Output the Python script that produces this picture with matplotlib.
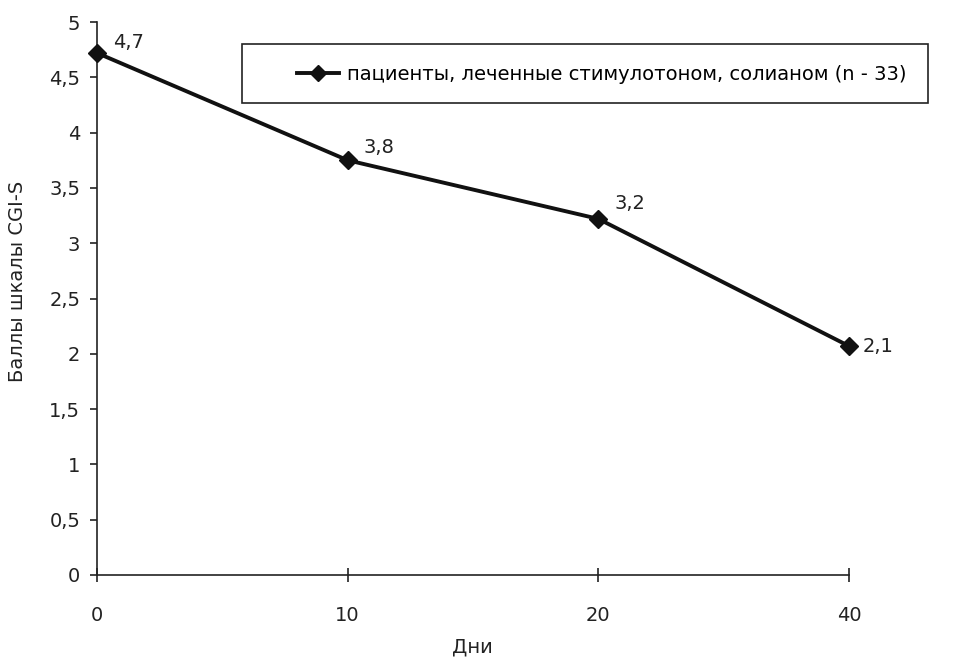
import matplotlib
matplotlib.use('Agg')
import matplotlib.pyplot as plt
from matplotlib.patches import Rectangle
import numpy as np

plt.rcParams.update({
    'font.family': ['DejaVu Sans'],
    'font.size': 14,
})

# CGI-S scores by day
days = ['0', '10', '20', '40']
scores = [4.72, 3.75, 3.22, 2.07]
series_name = 'пациенты, леченные стимулотоном, солианом (n - 33)'
y_ticks = [0, 0.5, 1, 1.5, 2, 2.5, 3, 3.5, 4, 4.5, 5]
y_labels = [f'{v:g}'.replace('.', ',') for v in y_ticks]

W, H = 954, 657
fig = plt.figure(figsize=(W / 100, H / 100), dpi=100)
ax = fig.add_axes([97 / W, 1 - 575 / H, (849 - 97) / W, (575 - 22) / H])

x = np.arange(len(days))
line, = ax.plot(x, scores, color='#111111', linewidth=2.8, marker='D',
                markersize=9.5, markerfacecolor='#111111', markeredgecolor='#111111',
                clip_on=False, zorder=5)

# value labels, offsets in pixels
offsets = [(16, 10), (16, 13), (16, 15), (14, 0)]
for xi, yi, off in zip(x, scores, offsets):
    ax.annotate(f'{yi:.1f}'.replace('.', ','), (xi, yi), textcoords='offset points',
                xytext=(off[0] * 0.72, off[1] * 0.72), ha='left', va='center',
                color='#222222')

ax.set_xlim(0, len(days) - 1)
ax.set_ylim(0, 5)
ax.set_xticks(x)
ax.set_xticklabels(days)
ax.set_yticks(y_ticks)
ax.set_yticklabels(y_labels)

for s in ['top', 'right']:
    ax.spines[s].set_visible(False)
for s in ['left', 'bottom']:
    ax.spines[s].set_linewidth(1.2)
    ax.spines[s].set_color('#222222')
ax.tick_params(axis='y', direction='out', length=5, width=1.2, pad=7, colors='#222222')
ax.tick_params(axis='x', direction='inout', length=10, width=1.2, pad=17, colors='#222222')

fig.text(472 / W, 1 - 647 / H, 'Дни', ha='center', va='center', color='#222222')
fig.text(18 / W, 1 - 281 / H, 'Баллы шкалы CGI-S', ha='center', va='center',
         rotation=90, color='#222222')

# legend box
fig.patches.append(Rectangle((242 / W, 1 - 103 / H), 686 / W, 59 / H,
                             transform=fig.transFigure, fill=False,
                             edgecolor='#222222', linewidth=1.2))
fig.legend([line], [series_name], loc='center left',
           bbox_to_anchor=(297 / W, 1 - 74 / H), frameon=False,
           borderpad=0, borderaxespad=0, handlelength=2.15, handletextpad=0.4,
           markerscale=0.85)

fig.savefig('out.png', dpi=100)
